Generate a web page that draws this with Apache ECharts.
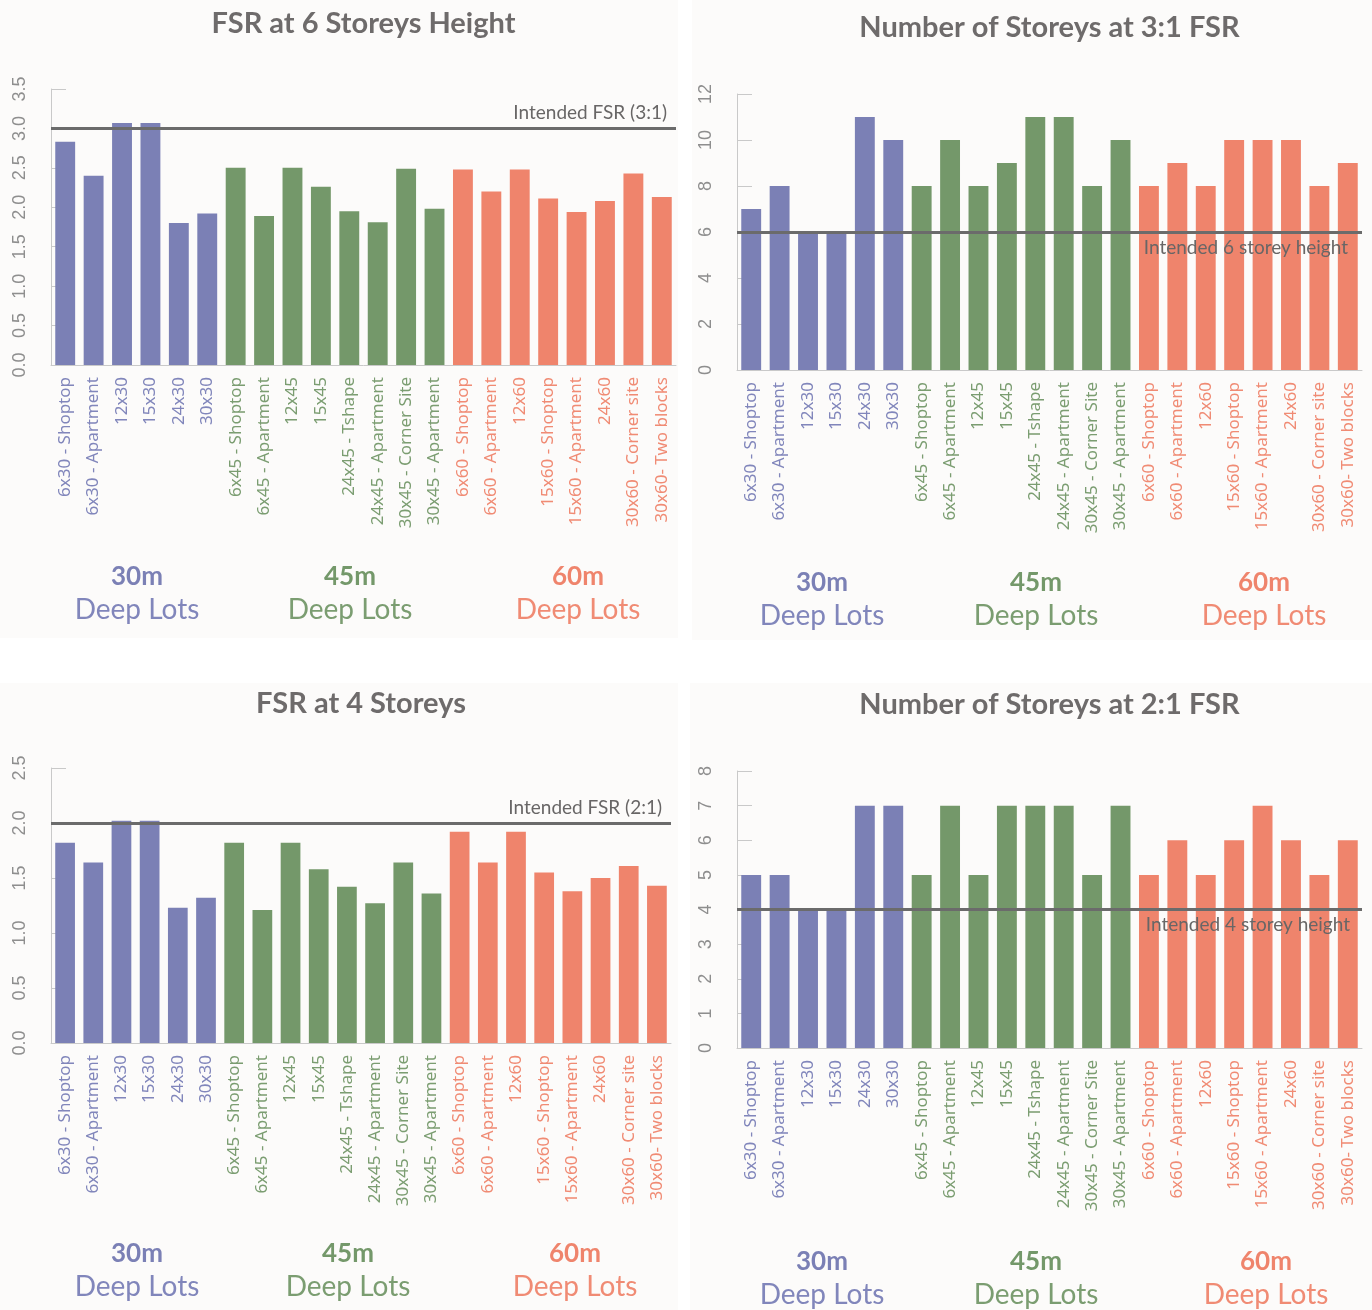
<!DOCTYPE html>
<html>
<head>
<meta charset="utf-8">
<title>Lot depth studies – FSR and storeys</title>
<script src="https://cdn.jsdelivr.net/npm/echarts@6/dist/echarts.min.js"></script>
<style>
  html, body { margin: 0; padding: 0; background: #ffffff; }
  #chart { width: 1372px; height: 1310px; }
</style>
</head>
<body>
<div id="chart"></div>
<script>
// Lot typologies, grouped by lot depth
const categories = [
  '6x30 - Shoptop', '6x30 - Apartment', '12x30', '15x30', '24x30', '30x30',
  '6x45 - Shoptop', '6x45 - Apartment', '12x45', '15x45', '24x45 - Tshape',
  '24x45 - Apartment', '30x45 - Corner Site', '30x45 - Apartment',
  '6x60 - Shoptop', '6x60 - Apartment', '12x60', '15x60 - Shoptop',
  '15x60 - Apartment', '24x60', '30x60 - Corner site', '30x60- Two blocks'
];
const groupNames = ['30m', '45m', '60m'];
const groupSubtitle = 'Deep Lots';
const groupSizes = [6, 8, 8];
const groupColors = ['#7b80b5', '#74986a', '#ef846c'];
const groupLabelColors = ['#8186bb', '#7b9d71', '#f08b74'];

// FSR reached when built to 6 storeys
const fsrAt6Storeys = [2.83, 2.40, 3.07, 3.07, 1.80, 1.92, 2.50, 1.89, 2.50, 2.26, 1.95,
  1.81, 2.49, 1.98, 2.48, 2.20, 2.48, 2.11, 1.94, 2.08, 2.43, 2.13];
// Storeys needed to reach 3:1 FSR
const storeysAt3to1 = [7, 8, 6, 6, 11, 10, 8, 10, 8, 9, 11, 11, 8, 10, 8, 9, 8, 10, 10, 10, 8, 9];
// FSR reached when built to 4 storeys
const fsrAt4Storeys = [1.82, 1.64, 2.02, 2.02, 1.23, 1.32, 1.82, 1.21, 1.82, 1.58, 1.42,
  1.27, 1.64, 1.36, 1.92, 1.64, 1.92, 1.55, 1.38, 1.50, 1.61, 1.43];
// Storeys needed to reach 2:1 FSR
const storeysAt2to1 = [5, 5, 4, 4, 7, 7, 5, 7, 5, 7, 7, 7, 5, 7, 5, 6, 5, 6, 7, 6, 5, 6];

const panelTitles = ['FSR at 6 Storeys Height', 'Number of Storeys at 3:1 FSR',
  'FSR at 4 Storeys', 'Number of Storeys at 2:1 FSR'];
const targetValues = [3, 6, 2, 4];
const targetLabels = ['Intended FSR (3:1)', 'Intended 6 storey height',
  'Intended FSR (2:1)', 'Intended 4 storey height'];
const axisMax = [3.5, 12, 2.5, 8];
const axisStep = [0.5, 2, 0.5, 1];
const axisDecimals = [1, 0, 1, 0];
const panelSeries = [fsrAt6Storeys, storeysAt3to1, fsrAt4Storeys, storeysAt2to1];

// group index of each category
const groupIndex = [];
groupSizes.forEach((n, g) => { for (let i = 0; i < n; i++) groupIndex.push(g); });
const colorOf = i => groupColors[groupIndex[i]];
const labelColorOf = i => groupLabelColors[groupIndex[i]];

// panel layout
const panels = [
  { left: 51,  top: 89,  width: 625, height: 276, titleY: 24,  labelX: [137, 350, 578], labelY: 577, labelPos: 'insideEndTop', labelDist: [9, 6] },
  { left: 737, top: 94,  width: 625, height: 276, titleY: 28,  labelX: [822, 1036, 1264], labelY: 583, labelPos: 'insideEndBottom', labelDist: [14, 6] },
  { left: 51,  top: 768, width: 620, height: 275, titleY: 704, labelX: [137, 348, 575], labelY: 1254, labelPos: 'insideEndTop', labelDist: [9, 6] },
  { left: 737, top: 771, width: 625, height: 277, titleY: 705, labelX: [822, 1036, 1266], labelY: 1262, labelPos: 'insideEndBottom', labelDist: [12, 6] }
];
const panelBoxes = [
  [0, 0, 678, 638], [692, 0, 680, 640], [0, 683, 678, 627], [690, 683, 682, 627]
];

const grid = [], xAxis = [], yAxis = [], series = [], graphic = [];
const textGrey = '#6e6b6b';
const axisGrey = '#c9c9c9';

panelBoxes.forEach(b => graphic.push({
  type: 'rect', z: -10, silent: true,
  shape: { x: b[0], y: b[1], width: b[2], height: b[3] },
  style: { fill: '#fcfbfa' }
}));

panels.forEach((p, k) => {
  grid.push({ left: p.left, top: p.top, width: p.width, height: p.height, containLabel: false });
  xAxis.push({
    type: 'category', gridIndex: k, data: categories,
    axisLine: { show: true, lineStyle: { color: axisGrey, width: 1 } },
    axisTick: { show: false },
    axisLabel: {
      interval: 0, rotate: 90, margin: 12, fontFamily: 'Noto Sans', fontSize: 17,
      color: (v, i) => labelColorOf(i)
    }
  });
  yAxis.push({
    type: 'value', gridIndex: k, min: 0, max: axisMax[k], interval: axisStep[k],
    splitLine: { show: false },
    axisLine: { show: true, lineStyle: { color: axisGrey, width: 1 } },
    axisTick: { show: true, inside: true, length: 15, lineStyle: { color: axisGrey } },
    axisLabel: {
      rotate: 90, margin: 22, fontFamily: 'Liberation Sans', fontSize: 18, color: '#8e8e8e',
      formatter: v => v.toFixed(axisDecimals[k])
    }
  });
  series.push({
    type: 'bar', xAxisIndex: k, yAxisIndex: k,
    data: panelSeries[k], barCategoryGap: '30%',
    itemStyle: { color: params => colorOf(params.dataIndex) },
    markLine: {
      silent: true, symbol: 'none', animation: false,
      lineStyle: { color: '#6b6b6b', width: 3, type: 'solid' },
      label: {
        position: p.labelPos, formatter: targetLabels[k], distance: p.labelDist,
        fontFamily: 'Lato', fontSize: 19, color: '#686666'
      },
      data: [{ yAxis: targetValues[k] }]
    }
  });

  graphic.push({
    type: 'text', x: p.left + p.width / 2, y: p.titleY, z: 10,
    style: {
      text: panelTitles[k], fill: textGrey, font: 'bold 29px Lato',
      align: 'center', verticalAlign: 'middle'
    }
  });
  groupNames.forEach((g, gi) => {
    graphic.push({
      type: 'text', x: p.labelX[gi], y: p.labelY, z: 10,
      style: { text: g, fill: groupColors[gi], font: 'bold 26px Lato', align: 'center', verticalAlign: 'middle' }
    });
    graphic.push({
      type: 'text', x: p.labelX[gi], y: p.labelY + 33, z: 10,
      style: { text: groupSubtitle, fill: groupLabelColors[gi], font: '28px Lato', align: 'center', verticalAlign: 'middle' }
    });
  });
});

const chart = echarts.init(document.getElementById('chart'), null, { renderer: 'canvas' });
chart.setOption({
  backgroundColor: '#ffffff',
  animation: false,
  grid, xAxis, yAxis, series, graphic
});
</script>
</body>
</html>
